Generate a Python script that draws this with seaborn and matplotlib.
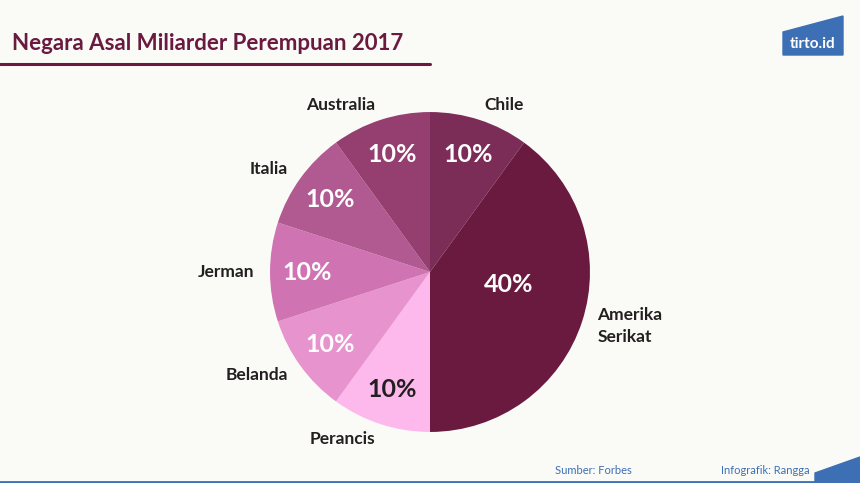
import numpy as np
import matplotlib
matplotlib.use("Agg")
import matplotlib.pyplot as plt
import matplotlib.patches as mpatches
import seaborn as sns

# Data
countries = ["Chile", "Amerika\nSerikat", "Perancis", "Belanda", "Jerman", "Italia", "Australia"]
shares = [10, 40, 10, 10, 10, 10, 10]
colors = ["#7b2d58", "#6a1a3e", "#fdb9ec", "#e793cd", "#cf73b2", "#b15991", "#943f70"]
pct_colors = ["white", "white", "#231f20", "white", "white", "white", "white"]

title = "Negara Asal Miliarder Perempuan 2017"
source = "Sumber: Forbes"
credit = "Infografik: Rangga"

bg = "#fafaf7"
plum = "#6a1a3e"
blue = "#3d6fb5"

sns.set_theme(style="white")
plt.rcParams["font.family"] = ["Lato", "DejaVu Sans"]

fig = plt.figure(figsize=(8.6, 4.83), dpi=100, facecolor=bg)
ax = fig.add_axes([0.314, 0.1056, 0.372, 0.6625])
ax.set_facecolor(bg)

wedges, texts, autotexts = ax.pie(
    shares, labels=countries, colors=colors, startangle=90, counterclock=False,
    autopct="%d%%", pctdistance=0.77, labeldistance=1.1,
    wedgeprops=dict(linewidth=0),
    textprops=dict(fontsize=12.5, fontweight="bold", color="#231f20"))
ax.set_aspect("equal")
ax.set_xlim(-1, 1)
ax.set_ylim(-1, 1)

for t, c, w, s in zip(autotexts, pct_colors, wedges, shares):
    t.set_color(c)
    t.set_fontsize(18)
    t.set_fontweight("bold")
    if s >= 40:
        ang = np.deg2rad((w.theta1 + w.theta2) / 2 + 9)
        t.set_position((0.5 * np.cos(ang), 0.5 * np.sin(ang)))

for t in texts:
    t.set_linespacing(1.45)

# title + underline
fig.text(12 / 860, 1 - 43 / 483, title, fontsize=16, fontweight="bold", color=plum,
         ha="left", va="center")
fig.add_artist(plt.Line2D([0, 430 / 860], [1 - 64 / 483] * 2, color=plum, linewidth=2.2))

# logo
logo = mpatches.Polygon([(783 / 860, 1 - 32 / 483), (843 / 860, 1 - 16 / 483),
                         (843 / 860, 1 - 55 / 483), (783 / 860, 1 - 55 / 483)],
                        closed=True, color=blue, transform=fig.transFigure)
fig.add_artist(logo)
fig.text(813 / 860, 1 - 44 / 483, "tirto.id", fontsize=11, fontweight="bold",
         color="white", ha="center", va="center")

# footer
fig.add_artist(plt.Line2D([0, 1], [1.5 / 483] * 2, color=blue, linewidth=2))
tri = mpatches.Polygon([(815 / 860, 0), (860 / 860, 0), (860 / 860, 26 / 483),
                        (815 / 860, 10 / 483)], closed=True, color=blue,
                       transform=fig.transFigure)
fig.add_artist(tri)
fig.text(555 / 860, 1 - 471 / 483, source, fontsize=8, color=blue, ha="left", va="center")
fig.text(810 / 860, 1 - 471 / 483, credit, fontsize=8, color=blue, ha="right", va="center")

fig.savefig("out.png", dpi=100, facecolor=bg)
